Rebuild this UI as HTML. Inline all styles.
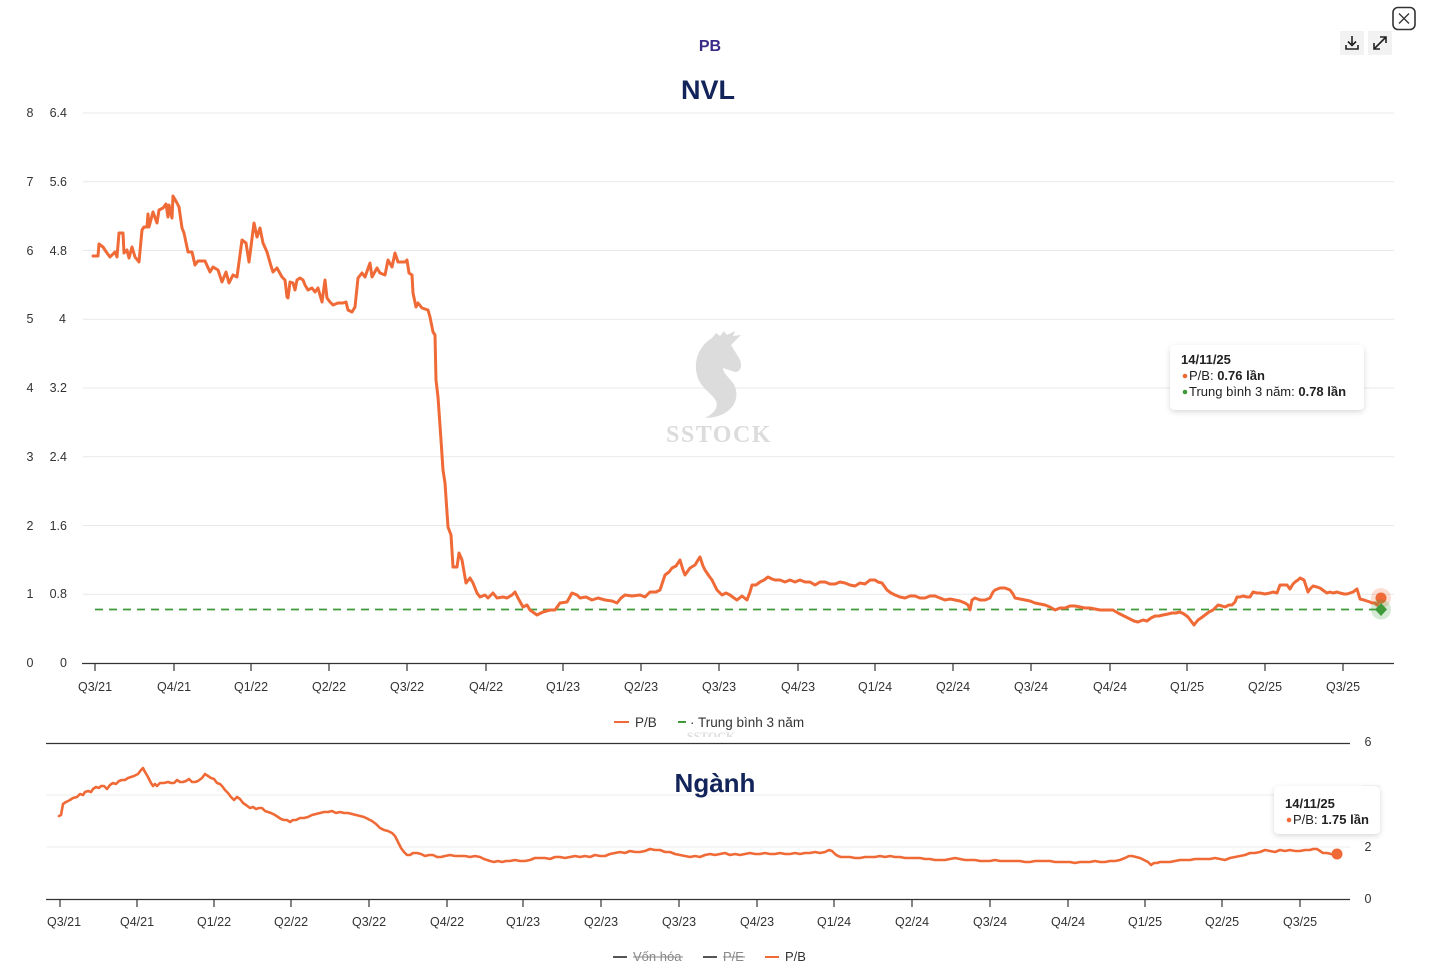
<!DOCTYPE html>
<html>
<head>
<meta charset="utf-8">
<style>
html,body{margin:0;padding:0;background:#fff;}
body{width:1430px;height:966px;overflow:hidden;position:relative;font-family:"Liberation Sans","DejaVu Sans",sans-serif;}
svg{position:absolute;left:0;top:0;}
text{font-family:"Liberation Sans","DejaVu Sans",sans-serif;}
</style>
</head>
<body>
<svg width="1430" height="966" viewBox="0 0 1430 966" xmlns="http://www.w3.org/2000/svg">
<defs>
  <filter id="sh" x="-20%" y="-30%" width="140%" height="170%">
    <feDropShadow dx="0" dy="2" stdDeviation="3" flood-color="#000" flood-opacity="0.15"/>
  </filter>
</defs>

<!-- Top-right controls -->
<rect x="1393" y="7.5" width="22" height="22" rx="5" fill="#fff" stroke="#333" stroke-width="1.6"/>
<path d="M1399,13.5 L1409,23.5 M1409,13.5 L1399,23.5" stroke="#333" stroke-width="1.3"/>
<rect x="1340" y="31" width="24" height="24" fill="#f2f2f2"/>
<path d="M1352,36 L1352,45 M1348,41.5 L1352,45.5 L1356,41.5" stroke="#222" stroke-width="1.6" fill="none"/>
<path d="M1346,45 L1346,49 L1358,49 L1358,45" stroke="#222" stroke-width="1.6" fill="none"/>
<rect x="1368" y="31" width="24" height="24" fill="#f2f2f2"/>
<path d="M1374,49 L1386,37 M1380,37 L1386,37 L1386,43 M1374,43 L1374,49 L1380,49" stroke="#222" stroke-width="1.6" fill="none"/>

<!-- Titles -->
<text x="710" y="51" text-anchor="middle" font-size="16" font-weight="bold" fill="#3a2a88">PB</text>
<text x="708" y="99" text-anchor="middle" font-size="27" font-weight="bold" fill="#12245a">NVL</text>

<!-- Top chart gridlines -->
<g stroke="#e8e8e8" stroke-width="1">
  <line x1="83" y1="113" x2="1394" y2="113"/>
  <line x1="83" y1="181.75" x2="1394" y2="181.75"/>
  <line x1="83" y1="250.5" x2="1394" y2="250.5"/>
  <line x1="83" y1="319.25" x2="1394" y2="319.25"/>
  <line x1="83" y1="388" x2="1394" y2="388"/>
  <line x1="83" y1="456.75" x2="1394" y2="456.75"/>
  <line x1="83" y1="525.5" x2="1394" y2="525.5"/>
  <line x1="83" y1="594.25" x2="1394" y2="594.25"/>
</g>

<!-- Left y labels -->
<g font-size="12.5" fill="#333" text-anchor="middle">
  <text x="30" y="117">8</text>
  <text x="30" y="186">7</text>
  <text x="30" y="255">6</text>
  <text x="30" y="323">5</text>
  <text x="30" y="392">4</text>
  <text x="30" y="461">3</text>
  <text x="30" y="530">2</text>
  <text x="30" y="598">1</text>
  <text x="30" y="667">0</text>
</g>
<g font-size="12.5" fill="#333" text-anchor="end">
  <text x="67" y="117">6.4</text>
  <text x="67" y="186">5.6</text>
  <text x="67" y="255">4.8</text>
  <text x="66" y="323">4</text>
  <text x="67" y="392">3.2</text>
  <text x="67" y="461">2.4</text>
  <text x="67" y="530">1.6</text>
  <text x="67" y="598">0.8</text>
  <text x="67" y="667">0</text>
</g>

<!-- Watermark -->
<g fill="#dcdcdc">
  <path d="M712,338 C700,345 693,360 697,375 C700,388 712,393 716,401 C719,408 713,414 705,418 C726,418 739,405 736,390 C734,380 723,375 723,368 L735,372 C741,372 743,365 739,358 L731,345 L741,335 L733,336 L735,331 L727,335 L724,331 L720,336 L716,333 Z"/>
  <text x="719" y="442" text-anchor="middle" font-size="24" font-weight="bold" style="font-family:'Liberation Serif','DejaVu Serif',serif" letter-spacing="1.5">SSTOCK</text>
</g>

<!-- Axis -->
<line x1="82" y1="663.5" x2="1394" y2="663.5" stroke="#333" stroke-width="1.2"/>
<g stroke="#333" stroke-width="1.2">
  <line x1="95" y1="663" x2="95" y2="671"/>
  <line x1="174" y1="663" x2="174" y2="671"/>
  <line x1="251" y1="663" x2="251" y2="671"/>
  <line x1="329" y1="663" x2="329" y2="671"/>
  <line x1="407" y1="663" x2="407" y2="671"/>
  <line x1="486" y1="663" x2="486" y2="671"/>
  <line x1="563" y1="663" x2="563" y2="671"/>
  <line x1="641" y1="663" x2="641" y2="671"/>
  <line x1="719" y1="663" x2="719" y2="671"/>
  <line x1="798" y1="663" x2="798" y2="671"/>
  <line x1="875" y1="663" x2="875" y2="671"/>
  <line x1="953" y1="663" x2="953" y2="671"/>
  <line x1="1031" y1="663" x2="1031" y2="671"/>
  <line x1="1110" y1="663" x2="1110" y2="671"/>
  <line x1="1187" y1="663" x2="1187" y2="671"/>
  <line x1="1265" y1="663" x2="1265" y2="671"/>
  <line x1="1343" y1="663" x2="1343" y2="671"/>
</g>
<g font-size="12.5" fill="#333" text-anchor="middle">
  <text x="95" y="691">Q3/21</text>
  <text x="174" y="691">Q4/21</text>
  <text x="251" y="691">Q1/22</text>
  <text x="329" y="691">Q2/22</text>
  <text x="407" y="691">Q3/22</text>
  <text x="486" y="691">Q4/22</text>
  <text x="563" y="691">Q1/23</text>
  <text x="641" y="691">Q2/23</text>
  <text x="719" y="691">Q3/23</text>
  <text x="798" y="691">Q4/23</text>
  <text x="875" y="691">Q1/24</text>
  <text x="953" y="691">Q2/24</text>
  <text x="1031" y="691">Q3/24</text>
  <text x="1110" y="691">Q4/24</text>
  <text x="1187" y="691">Q1/25</text>
  <text x="1265" y="691">Q2/25</text>
  <text x="1343" y="691">Q3/25</text>
</g>

<!-- Dashed average -->
<line x1="95" y1="609.5" x2="1381" y2="609.5" stroke="#3f9a3a" stroke-width="1.8" stroke-dasharray="8,6"/>

<!-- P/B line top -->
<polyline fill="none" stroke="#ef6a36" stroke-width="3" stroke-linejoin="round" stroke-linecap="round" points="
93,256 98,256 99,244 103,247 107,253 110,257 115,252 117,257 119,233 123,233 124,253 127,250 129,258 132,247 135,257 139,262 142,230 144,227 147,227 148,214 149,227 153,212 157,223 159,210 163,208 166,204 168,217 169,205 172,218 173,196 177,203 179,207 182,228 184,233 188,252 192,252 195,265 198,261 205,261 210,272 213,267 218,270 222,282 226,272 229,283 233,275 237,277 242,240 246,243 249,262 254,223 257,237 260,228 263,243 267,252 271,266 273,272 277,268 282,277 285,280 287,297 288,298 290,282 293,283 295,290 297,280 300,278 303,280 305,285 308,290 312,288 315,292 318,288 322,302 323,295 325,280 327,298 330,302 333,305 338,303 343,303 346,302 348,310 352,312 355,307 358,278 362,273 365,277 370,263 372,277 377,268 380,273 385,275 388,260 392,267 395,253 398,262 405,262 407,260 409,273 412,275 413,293 416,307 418,303 422,308 428,310 430,317 433,332 435,335 436,380 438,397 441,440 443,470 445,483 448,527 451,535 453,567 457,567 459,553 462,560 466,583 470,578 473,583 477,593 480,597 485,595 488,598 493,593 497,598 503,597 507,598 512,595 515,592 518,598 523,607 527,605 530,610 537,615 543,612 550,610 555,610 560,603 567,602 572,593 577,595 580,598 586,597 592,600 598,598 605,600 612,601 617,603 621,598 625,595 632,596 640,595 645,597 650,592 656,592 660,590 665,575 669,572 672,568 676,566 680,560 683,570 685,575 690,568 695,565 698,560 700,557 703,566 705,570 709,576 712,580 717,590 722,595 726,593 730,595 734,598 737,600 742,596 747,600 750,592 752,585 756,585 760,582 764,580 768,577 772,579 775,580 780,580 785,582 790,580 795,582 800,580 805,582 810,582 815,585 820,582 825,582 830,584 835,584 840,582 845,583 850,585 855,586 860,583 865,584 870,580 875,580 878,582 882,583 887,590 891,593 895,595 900,597 905,598 910,596 915,596 920,598 925,598 930,596 935,596 940,598 945,600 950,599 955,600 960,601 965,603 968,605 970,610 972,600 975,598 980,600 985,600 990,598 993,592 995,590 1000,588 1005,588 1010,590 1013,594 1015,598 1020,599 1025,600 1030,601 1035,603 1040,604 1045,605 1050,607 1055,610 1060,608 1065,608 1070,606 1075,606 1080,607 1085,608 1090,608 1095,609 1100,610 1106,610 1113,610 1118,613 1122,615 1126,617 1130,619 1134,621 1138,622 1143,620 1147,621 1151,618 1155,616 1159,616 1163,615 1168,614 1172,613 1176,613 1180,612 1184,614 1188,617 1191,621 1194,625 1198,620 1201,618 1205,615 1209,612 1213,610 1218,605 1222,606 1225,607 1229,605 1232,605 1235,602 1237,597 1240,597 1243,596 1247,597 1250,597 1253,592 1257,593 1260,593 1265,594 1270,593 1273,592 1277,593 1280,585 1284,585 1287,585 1290,589 1293,584 1295,582 1298,580 1300,578 1304,580 1306,586 1308,592 1310,589 1313,586 1317,587 1320,588 1324,591 1327,593 1330,592 1333,593 1337,592 1340,593 1344,594 1347,594 1350,593 1353,592 1357,589 1360,599 1364,600 1367,601 1370,602 1372,603 1375,603 1377,605 1381,598"/>

<!-- End markers -->
<circle cx="1381" cy="598" r="10" fill="#ef6a36" fill-opacity="0.22"/>
<circle cx="1381" cy="598" r="5.5" fill="#ef6a36"/>
<circle cx="1381" cy="609.5" r="10" fill="#3f9a3a" fill-opacity="0.22"/>
<path d="M1381,603 L1387,609.5 L1381,616 L1375,609.5 Z" fill="#3f9a3a"/>

<!-- Tooltip top -->
<rect x="1170" y="345" width="194" height="65" rx="5" fill="#fff" filter="url(#sh)"/>
<text x="1181" y="364" font-size="13" font-weight="bold" fill="#222">14/11/25</text>
<circle cx="1185" cy="376" r="2.3" fill="#ef6a36"/>
<text x="1189" y="380" font-size="13" fill="#222">P/B: <tspan font-weight="bold">0.76 lần</tspan></text>
<circle cx="1185" cy="392" r="2.3" fill="#3f9a3a"/>
<text x="1189" y="396" font-size="13" fill="#222">Trung bình 3 năm: <tspan font-weight="bold">0.78 lần</tspan></text>

<!-- Top legend -->
<line x1="614" y1="722" x2="629" y2="722" stroke="#ef6a36" stroke-width="2"/>
<text x="635" y="727" font-size="13.5" fill="#333">P/B</text>
<line x1="678" y1="722" x2="686" y2="722" stroke="#3f9a3a" stroke-width="2"/>
<text x="690" y="727" font-size="13.5" fill="#333">· Trung bình 3 năm</text>
<text x="711" y="740" text-anchor="middle" font-size="12" font-weight="bold" fill="#dedede" style="font-family:'Liberation Serif','DejaVu Serif',serif">SSTOCK</text>
<rect x="660" y="737" width="100" height="6" fill="#fff"/>

<!-- Bottom chart -->
<line x1="46" y1="743.5" x2="1350" y2="743.5" stroke="#333" stroke-width="1.2"/>
<line x1="46" y1="795" x2="1350" y2="795" stroke="#ececec" stroke-width="1"/>
<line x1="46" y1="847" x2="1350" y2="847" stroke="#ececec" stroke-width="1"/>
<text x="715" y="792" text-anchor="middle" font-size="26" font-weight="bold" fill="#12245a">Ngành</text>

<g font-size="12.5" fill="#333" text-anchor="middle">
  <text x="1368" y="746">6</text>
  <text x="1368" y="851">2</text>
  <text x="1368" y="903">0</text>
</g>
<rect x="1362" y="785" width="18" height="18" fill="#f6f6f6"/>

<line x1="46" y1="899.5" x2="1350" y2="899.5" stroke="#333" stroke-width="1.2"/>
<g stroke="#333" stroke-width="1.2">
  <line x1="60" y1="899" x2="60" y2="907"/>
  <line x1="137" y1="899" x2="137" y2="907"/>
  <line x1="214" y1="899" x2="214" y2="907"/>
  <line x1="291" y1="899" x2="291" y2="907"/>
  <line x1="369" y1="899" x2="369" y2="907"/>
  <line x1="447" y1="899" x2="447" y2="907"/>
  <line x1="523" y1="899" x2="523" y2="907"/>
  <line x1="601" y1="899" x2="601" y2="907"/>
  <line x1="679" y1="899" x2="679" y2="907"/>
  <line x1="757" y1="899" x2="757" y2="907"/>
  <line x1="834" y1="899" x2="834" y2="907"/>
  <line x1="912" y1="899" x2="912" y2="907"/>
  <line x1="990" y1="899" x2="990" y2="907"/>
  <line x1="1068" y1="899" x2="1068" y2="907"/>
  <line x1="1145" y1="899" x2="1145" y2="907"/>
  <line x1="1222" y1="899" x2="1222" y2="907"/>
  <line x1="1300" y1="899" x2="1300" y2="907"/>
</g>
<g font-size="12.5" fill="#333" text-anchor="middle">
  <text x="64" y="926">Q3/21</text>
  <text x="137" y="926">Q4/21</text>
  <text x="214" y="926">Q1/22</text>
  <text x="291" y="926">Q2/22</text>
  <text x="369" y="926">Q3/22</text>
  <text x="447" y="926">Q4/22</text>
  <text x="523" y="926">Q1/23</text>
  <text x="601" y="926">Q2/23</text>
  <text x="679" y="926">Q3/23</text>
  <text x="757" y="926">Q4/23</text>
  <text x="834" y="926">Q1/24</text>
  <text x="912" y="926">Q2/24</text>
  <text x="990" y="926">Q3/24</text>
  <text x="1068" y="926">Q4/24</text>
  <text x="1145" y="926">Q1/25</text>
  <text x="1222" y="926">Q2/25</text>
  <text x="1300" y="926">Q3/25</text>
</g>

<polyline fill="none" stroke="#ef6a36" stroke-width="2.6" stroke-linejoin="round" stroke-linecap="round" points="
59,816 61,815 63,804 66,802 70,800 73,798 77,797 80,794 83,795 85,792 88,791 91,792 93,789 96,787 99,788 101,786 104,786 107,789 110,785 113,783 116,784 119,781 122,780 125,780 128,778 131,777 134,776 138,774 141,770 143,768 145,772 148,777 151,783 153,786 155,784 157,786 160,783 164,783 168,782 171,783 174,783 177,780 180,782 183,782 186,781 189,779 192,782 195,782 198,781 202,778 205,774 208,776 211,778 214,779 217,783 220,784 222,786 225,790 228,793 231,797 234,800 237,797 240,799 243,803 246,805 250,808 253,807 256,809 259,808 262,808 265,811 268,812 271,813 275,815 278,817 281,819 284,820 287,820 290,822 293,820 296,820 300,818 304,818 308,817 312,815 316,814 320,813 324,812 328,812 332,811 336,813 340,812 344,813 348,813 352,814 356,815 360,816 364,817 368,819 372,821 376,824 380,828 384,830 388,831 392,833 395,836 398,842 401,848 404,852 407,855 410,855 413,853 417,853 421,854 425,856 429,855 433,855 437,857 441,857 445,856 450,855 455,856 460,856 465,856 470,857 475,856 480,857 484,859 487,860 490,861 494,862 498,861 502,862 506,861 510,861 515,860 520,861 525,861 530,860 535,858 540,858 545,858 550,859 555,857 560,857 565,858 570,857 575,856 580,857 585,856 590,857 595,855 600,856 605,856 610,854 615,853 620,852 625,853 630,851 635,852 640,852 645,851 650,849 655,850 660,850 665,852 670,852 675,854 680,855 685,856 690,857 695,856 700,857 705,855 710,854 715,855 720,854 725,853 730,855 735,854 740,855 745,854 750,853 755,854 760,854 765,853 770,854 775,854 780,853 785,854 790,854 795,853 800,854 805,853 810,853 815,852 820,853 825,852 829,850 832,851 835,854 838,856 841,857 845,857 850,857 855,858 860,858 865,857 870,857 875,857 880,856 885,857 890,856 895,857 900,857 905,858 910,858 915,858 920,858 925,859 930,859 935,860 940,860 945,860 950,859 955,858 960,859 965,860 970,860 975,860 980,861 985,861 990,861 995,860 1000,861 1005,861 1010,861 1015,861 1020,861 1025,862 1030,862 1035,861 1040,861 1045,861 1050,861 1055,862 1060,862 1065,862 1070,862 1075,863 1080,862 1085,862 1090,862 1095,861 1100,862 1105,862 1110,861 1115,861 1120,860 1125,858 1129,856 1132,856 1136,857 1140,858 1144,860 1148,862 1151,865 1154,863 1157,863 1160,862 1165,862 1170,862 1175,861 1180,860 1185,860 1190,860 1195,859 1200,859 1205,859 1210,859 1215,858 1220,859 1225,860 1230,858 1235,857 1240,856 1245,855 1250,853 1255,853 1260,852 1265,850 1270,851 1275,852 1280,850 1285,851 1290,850 1295,851 1300,851 1305,850 1310,850 1313,849 1317,849 1320,851 1323,853 1327,853 1331,854 1337,854"/>
<circle cx="1337" cy="854" r="5.5" fill="#ef6a36"/>

<!-- Tooltip bottom -->
<rect x="1274" y="786" width="106" height="48" rx="5" fill="#fff" filter="url(#sh)"/>
<text x="1285" y="808" font-size="13" font-weight="bold" fill="#222">14/11/25</text>
<circle cx="1289" cy="820" r="2.3" fill="#ef6a36"/>
<text x="1293" y="824" font-size="13" fill="#222">P/B: <tspan font-weight="bold">1.75 lần</tspan></text>

<!-- Bottom legend -->
<line x1="613" y1="957" x2="627" y2="957" stroke="#555" stroke-width="2"/>
<text x="633" y="961" font-size="13" fill="#888">Vốn hóa</text>
<line x1="633" y1="957" x2="683" y2="957" stroke="#888" stroke-width="1"/>
<line x1="703" y1="957" x2="717" y2="957" stroke="#555" stroke-width="2"/>
<text x="723" y="961" font-size="13" fill="#888">P/E</text>
<line x1="723" y1="957" x2="745" y2="957" stroke="#888" stroke-width="1"/>
<line x1="765" y1="957" x2="779" y2="957" stroke="#ef6a36" stroke-width="2"/>
<text x="785" y="961" font-size="13" fill="#333">P/B</text>
</svg>
</body>
</html>
